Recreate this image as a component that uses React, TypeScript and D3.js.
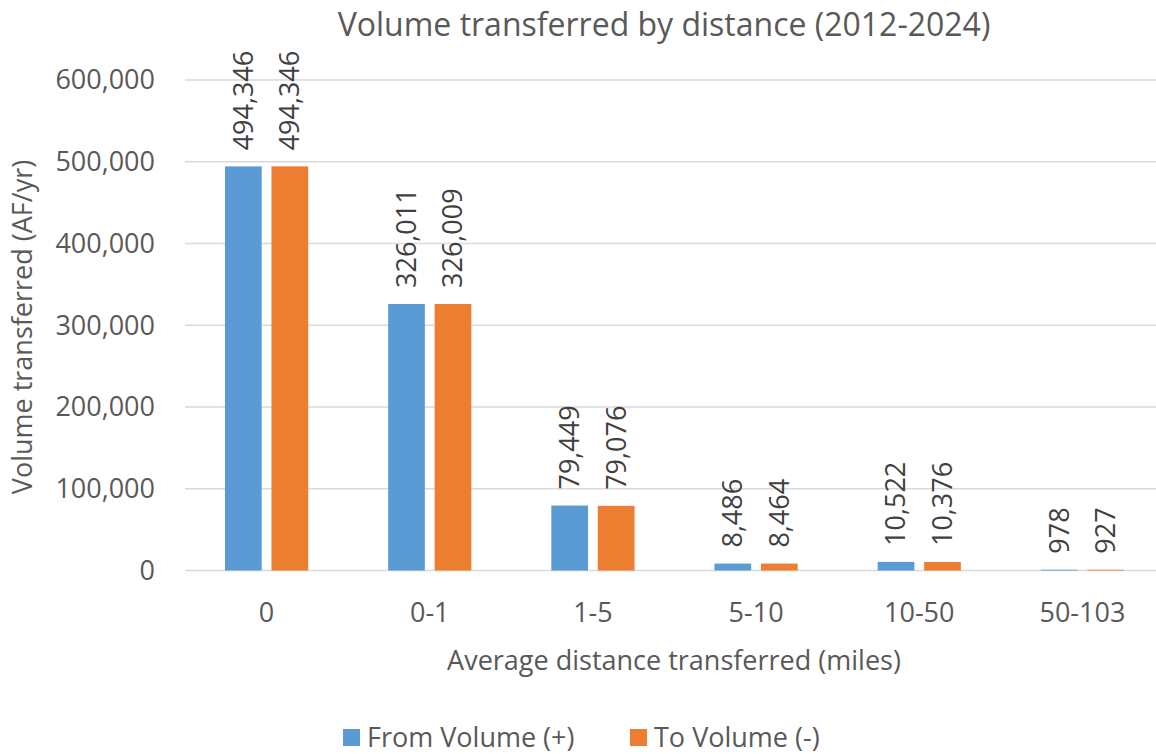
import React, { useEffect, useRef } from 'react';
import * as d3 from 'd3';

const categories = ['0', '0-1', '1-5', '5-10', '10-50', '50-103'];
const seriesNames = ['From Volume (+)', 'To Volume (-)'];
const fromVolume = [494346, 326011, 79449, 8486, 10522, 978];
const toVolume = [494346, 326009, 79076, 8464, 10376, 927];
const yTicks = [0, 100000, 200000, 300000, 400000, 500000, 600000];
const colors = ['#5B9BD5', '#ED7D31'];

const W = 1156;
const H = 754;
const FONT = '"Open Sans", sans-serif';
const TEXT = '#595959';

const App: React.FC = () => {
  const ref = useRef<SVGSVGElement | null>(null);

  useEffect(() => {
    if (!ref.current) return;
    const svg = d3.select(ref.current);
    svg.selectAll('*').remove();

    const left = 185;
    const right = 1164;
    const top = 80;
    const bottom = 570.5;

    const x0 = d3.scaleBand<string>().domain(categories).range([left, right]);
    const x1 = d3
      .scaleBand<string>()
      .domain(seriesNames)
      .range([x0.bandwidth() * 0.245, x0.bandwidth() * 0.755])
      .paddingInner(0.21);
    const y = d3.scaleLinear().domain([0, 600000]).range([bottom, top]);

    const g = svg.append('g');

    // gridlines
    g.selectAll('line.grid')
      .data(yTicks)
      .enter()
      .append('line')
      .attr('x1', left)
      .attr('x2', right)
      .attr('y1', (d) => y(d))
      .attr('y2', (d) => y(d))
      .attr('stroke', '#D9D9D9')
      .attr('stroke-width', 1.5);

    // y tick labels
    const fmt = d3.format(',');
    g.selectAll('text.ytick')
      .data(yTicks)
      .enter()
      .append('text')
      .attr('x', 155)
      .attr('y', (d) => y(d))
      .attr('dy', '0.35em')
      .attr('text-anchor', 'end')
      .attr('font-family', FONT)
      .attr('font-size', 27)
      .attr('fill', TEXT)
      .text((d) => fmt(d));

    const rows = categories.map((c, i) => ({
      cat: c,
      vals: [fromVolume[i], toVolume[i]],
    }));

    const groups = g
      .selectAll('g.cat')
      .data(rows)
      .enter()
      .append('g')
      .attr('transform', (d) => `translate(${x0(d.cat)},0)`);

    seriesNames.forEach((s, si) => {
      groups
        .append('rect')
        .attr('x', x1(s)!)
        .attr('width', x1.bandwidth())
        .attr('y', (d) => y(d.vals[si]))
        .attr('height', (d) => bottom - y(d.vals[si]))
        .attr('fill', colors[si]);

      groups
        .append('text')
        .attr('transform', (d) => {
          const cx = x1(s)! + x1.bandwidth() / 2;
          return `translate(${cx},${y(d.vals[si]) - 16}) rotate(-90)`;
        })
        .attr('dy', '0.35em')
        .attr('text-anchor', 'start')
        .attr('font-family', FONT)
        .attr('font-size', 27)
        .attr('fill', '#404040')
        .text((d) => fmt(d.vals[si]));
    });

    // x tick labels
    g.selectAll('text.xtick')
      .data(categories)
      .enter()
      .append('text')
      .attr('x', (d) => x0(d)! + x0.bandwidth() / 2)
      .attr('y', 622)
      .attr('text-anchor', 'middle')
      .attr('font-family', FONT)
      .attr('font-size', 27)
      .attr('fill', TEXT)
      .text((d) => d);

    // titles
    svg
      .append('text')
      .attr('x', 664)
      .attr('y', 36)
      .attr('text-anchor', 'middle')
      .attr('font-family', FONT)
      .attr('font-size', 32)
      .attr('fill', TEXT)
      .text('Volume transferred by distance (2012-2024)');

    svg
      .append('text')
      .attr('x', 674)
      .attr('y', 670)
      .attr('text-anchor', 'middle')
      .attr('font-family', FONT)
      .attr('font-size', 27)
      .attr('fill', TEXT)
      .text('Average distance transferred (miles)');

    svg
      .append('text')
      .attr('transform', `translate(32,327) rotate(-90)`)
      .attr('text-anchor', 'middle')
      .attr('font-family', FONT)
      .attr('font-size', 27)
      .attr('fill', TEXT)
      .text('Volume transferred (AF/yr)');

    // legend
    const legendX = [343, 630];
    seriesNames.forEach((s, i) => {
      svg
        .append('rect')
        .attr('x', legendX[i])
        .attr('y', 729)
        .attr('width', 17)
        .attr('height', 17)
        .attr('fill', colors[i]);
      svg
        .append('text')
        .attr('x', legendX[i] + 24)
        .attr('y', 747)
        .attr('font-family', FONT)
        .attr('font-size', 27)
        .attr('fill', TEXT)
        .text(s);
    });
  }, []);

  return (
    <svg
      ref={ref}
      width={W}
      height={H}
      style={{ position: 'absolute', left: 0, top: 0, background: '#fff' }}
    ></svg>
  );
};

export default App;
